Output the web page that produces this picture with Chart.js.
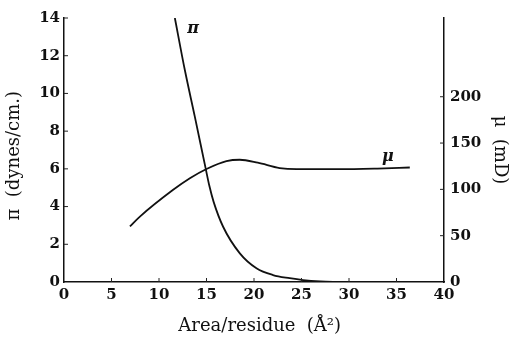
<!DOCTYPE html>
<html><head><meta charset="utf-8">
<script src="https://cdn.jsdelivr.net/npm/chart.js@4"></script>
<style>html,body{margin:0;padding:0;background:#fff}#wrap{width:510px;height:341px}</style>
</head><body><div id="wrap"><canvas id="c" width="510" height="341"></canvas></div>
<script>
const xTicks = [0,5,10,15,20,25,30,35,40];
const piTicks = [0,2,4,6,8,10,12,14];
const muTicks = [0,50,100,150,200];
const piX = [11.67, 12.72, 13.77, 14.9, 15.3, 15.75, 16.75, 18.51, 20.26, 22.0, 23.76, 25.16, 27.0, 29.0];
const piY = [14, 11.24, 8.77, 6.05, 5.1, 4.25, 2.93, 1.52, 0.73, 0.37, 0.2, 0.1, 0.03, 0];
const muX = [6.94, 7.99, 11.49, 13.25, 15.0, 17.1, 18.5, 20.4, 22.7, 24.5, 26.0, 29.0, 33.0, 36.4];
const muY = [60, 70.6, 99.5, 112, 122, 130.5, 132, 128.8, 123, 121.8, 121.8, 121.8, 122.5, 123.6];

const SERIF = '"DejaVu Serif", "Liberation Serif", serif';
const tickFont = {family: SERIF, size: 15, weight: 'bold'};
const titleFont = {family: SERIF, size: 18};

const inwardTicks = {
  id: 'inwardTicks',
  afterDraw(chart) {
    const ctx = chart.ctx, s = chart.scales;
    ctx.save(); ctx.strokeStyle = '#222'; ctx.lineWidth = 1;
    const L = 4;
    xTicks.forEach(v => { if (v===0||v===40) return; const p = s.x.getPixelForValue(v); ctx.beginPath(); ctx.moveTo(p, s.x.top); ctx.lineTo(p, s.x.top - L); ctx.stroke(); });
    piTicks.forEach(v => { if (v===0) return; const p = s.y.getPixelForValue(v); ctx.beginPath(); ctx.moveTo(s.y.right, p); ctx.lineTo(s.y.right + L, p); ctx.stroke(); });
    muTicks.forEach(v => { if (v===0) return; const p = s.y2.getPixelForValue(v); ctx.beginPath(); ctx.moveTo(s.y2.left, p); ctx.lineTo(s.y2.left - L, p); ctx.stroke(); });
    ctx.fillStyle = '#111';
    ctx.font = 'italic bold 16px ' + SERIF;
    ctx.textAlign = 'center'; ctx.textBaseline = 'middle';
    ctx.fillText('π', s.x.getPixelForValue(13.6), s.y.getPixelForValue(13.45));
    ctx.fillText('μ', s.x.getPixelForValue(34.1), s.y2.getPixelForValue(135));
    ctx.restore();
  }
};

const ax = (extra) => Object.assign({
  grid: {drawOnChartArea: false, drawTicks: false},
  border: {color: '#111', width: 1.5},
  ticks: {color: '#111', font: tickFont},
  title: {display: true, color: '#111', font: titleFont}
}, extra);

new Chart(document.getElementById('c'), {
  type: 'line',
  data: {
    datasets: [
      {data: piX.map((x,i)=>({x, y: piY[i]})), yAxisID: 'y', borderColor: '#111', borderWidth: 1.8, pointRadius: 0, cubicInterpolationMode: 'monotone', fill: false},
      {data: muX.map((x,i)=>({x, y: muY[i]})), yAxisID: 'y2', borderColor: '#111', borderWidth: 1.8, pointRadius: 0, cubicInterpolationMode: 'monotone', fill: false}
    ]
  },
  options: {
    responsive: false, animation: false,
    layout: {padding: {top: 18, left: 0, right: 0, bottom: 0}},
    plugins: {legend: {display: false}, tooltip: {enabled: false}},
    scales: {
      x: ax({type: 'linear', min: 0, max: 40,
        afterBuildTicks: s => { s.ticks = xTicks.map(v=>({value: v})); },
        ticks: {color: '#111', font: tickFont, padding: 4, maxRotation: 0},
        title: {display: true, text: '  Area/residue  (Å²)', color: '#111', font: titleFont, padding: {top: 10}},
        afterFit: s => { s.height = 59; }}),
      y: ax({type: 'linear', position: 'left', min: 0, max: 14,
        afterBuildTicks: s => { s.ticks = piTicks.map(v=>({value: v})); },
        ticks: {color: '#111', font: tickFont, padding: 4},
        title: {display: true, text: 'π  (dynes/cm.)  ', color: '#111', font: titleFont, padding: {top: 4, bottom: 0}},
        afterFit: s => { s.width = 64; }}),
      y2: ax({type: 'linear', position: 'right', min: 0, max: 285,
        afterBuildTicks: s => { s.ticks = muTicks.map(v=>({value: v})); },
        ticks: {color: '#111', font: tickFont, padding: 6},
        title: {display: true, text: 'μ  (mD)', color: '#111', font: titleFont, padding: {top: 0, bottom: 0}},
        afterFit: s => { s.width = 66; }})
    }
  },
  plugins: [inwardTicks]
});
</script></body></html>
